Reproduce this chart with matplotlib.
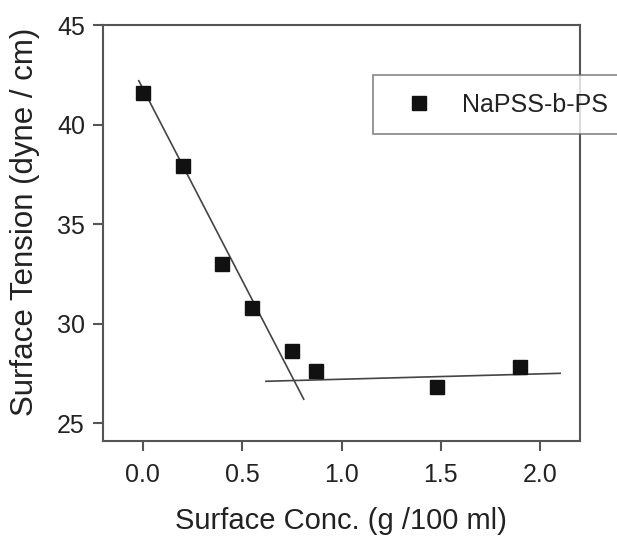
import matplotlib.pyplot as plt

plt.rcParams['font.family'] = ['Liberation Sans', 'DejaVu Sans']

# 数据
conc = [0.0, 0.2, 0.4, 0.55, 0.75, 0.87, 1.48, 1.90]
tension = [41.6, 37.9, 33.0, 30.8, 28.6, 27.6, 26.8, 27.8]

# 两条拟合线的端点
fit1_x = [-0.02, 0.81]
fit1_y = [42.2, 26.2]
fit2_x = [0.62, 2.10]
fit2_y = [27.1, 27.5]

x_ticks = [0.0, 0.5, 1.0, 1.5, 2.0]
y_ticks = [25, 30, 35, 40, 45]

fig = plt.figure(figsize=(6.17, 5.37), dpi=100, facecolor='white')
ax = fig.add_axes([103 / 617, 1 - 441 / 537, (580 - 103) / 617, (441 - 25) / 537])

spine_c = '#555555'
text_c = '#222222'

ax.plot(fit1_x, fit1_y, color='#444444', lw=1.2)
ax.plot(fit2_x, fit2_y, color='#444444', lw=1.2)
ax.plot(conc, tension, linestyle='none', marker='s', markersize=10.5,
        color='#111111', label='NaPSS-b-PS')

ax.set_xlim(-0.2, 2.2)
ax.set_ylim(24.1, 45)
ax.set_xticks(x_ticks)
ax.set_xticklabels(['%.1f' % v for v in x_ticks])
ax.set_yticks(y_ticks)

for s in ['left', 'bottom', 'right', 'top']:
    ax.spines[s].set_color(spine_c)
    ax.spines[s].set_linewidth(1.5)

ax.tick_params(axis='both', direction='out', length=7, width=1.5, color=spine_c,
               labelsize=18, labelcolor=text_c)
ax.tick_params(axis='x', pad=9)
ax.tick_params(axis='y', pad=6)
ax.tick_params(top=False, right=False)

# 轴标签
ax.set_xlabel('Surface Conc. (g /100 ml)', fontsize=21, color=text_c)
ax.set_ylabel('Surface Tension (dyne / cm)', fontsize=22.5, color=text_c)
ax.xaxis.set_label_coords((341 - 103) / 477, (441 - 521) / 416)
ax.yaxis.set_label_coords((25 - 103) / 477, (441 - 222) / 416)
ax.xaxis.label.set_va('center')
ax.yaxis.label.set_va('center')

# 图例，框伸出坐标轴右侧
leg = ax.legend(loc='upper left', mode='expand', fontsize=18,
                bbox_to_anchor=(373 / 617, 1 - 75 / 537, (640 - 373) / 617, 0),
                bbox_transform=fig.transFigure, borderaxespad=0,
                borderpad=0.7, handlelength=2.3, handletextpad=0.56,
                fancybox=False, frameon=True, markerscale=0.9)
leg.get_frame().set_edgecolor('#666666')
leg.get_frame().set_linewidth(1.2)
for t in leg.get_texts():
    t.set_color(text_c)

fig.savefig('out.png', dpi=100, facecolor='white')
